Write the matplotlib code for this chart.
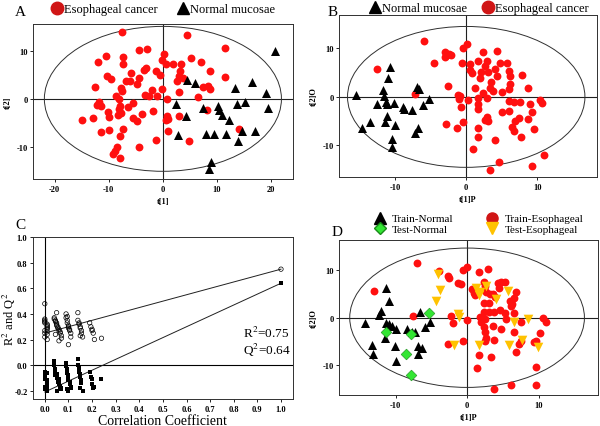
import numpy as np
import matplotlib.pyplot as plt
from matplotlib.patches import Ellipse
from matplotlib.lines import Line2D

plt.rcParams['font.family'] = ['Liberation Serif', 'DejaVu Serif']
plt.rcParams['mathtext.fontset'] = 'stix'
plt.rcParams['axes.unicode_minus'] = False

### data
# A: PCA scores t[1], t[2]
a_cancer = [(-7.5, 13.9), (4.4, 13.3), (11.5, 10.6), (-4.4, 10.2), (-3.0, 10.4), (-10.5, 8.9),
            (-11.9, 7.6), (-7.4, 8.7), (-7.3, 7.3), (0.2, 9.3), (-0.2, 8.1), (0.6, 7.3), (1.9, 7.2),
            (3.3, 7.3), (5.2, 8.5), (7.0, 7.6), (8.7, 5.9), (11.5, 4.6), (-5.9, 5.4), (-3.4, 6.0),
            (-3.2, 6.5), (-1.3, 5.9), (-0.6, 4.9), (3.2, 5.7), (2.9, 4.8), (3.8, 4.3), (2.6, 3.8),
            (-10.3, 4.7), (-9.6, 4.2), (-6.8, 3.7), (-6.1, 3.7), (-4.4, 4.3), (-4.8, 3.1), (-12.6, 2.4),
            (-7.7, 2.2), (-7.6, 1.7), (-2.1, 1.9), (-0.2, 2.1), (2.9, 1.5), (6.5, 0.35), (7.4, 2.4),
            (8.4, 2.7), (8.7, 2.1), (-3.3, 0.8), (-2.6, 0.6), (-1.0, 0.6), (0.7, 0.0), (-8.7, 0.6),
            (-8.1, 0.0), (-12.1, -1.2), (-11.5, -1.4), (-11.8, -0.7), (-7.9, -1.4), (-8.2, -2.2),
            (-6.4, -1.7), (-5.5, -0.8), (-1.8, -2.6), (-10.2, -2.8), (-10.0, -3.8), (-8.3, -3.3),
            (-7.8, -3.0), (-12.9, -4.0), (-14.9, -4.5), (-5.6, -4.0), (-4.7, -4.6), (-3.9, -3.1),
            (0.7, -3.6), (1.0, -4.1), (0.6, -4.4), (2.9, -3.6), (8.2, -2.4), (-11.4, -6.9),
            (-10.0, -6.4), (-7.3, -6.2), (-7.9, -7.8), (1.0, -6.6), (14.0, -6.3), (-1.3, -8.5),
            (4.8, -8.7), (-4.4, -10.1), (-8.5, -10.0), (-8.8, -10.8), (-9.2, -11.5), (-7.9, -12.4)]
a_normal = [(20.8, 9.9), (4.5, 4.0), (6.0, 3.3), (16.5, 3.6), (13.4, 2.3), (19.1, 1.25), (2.5, -1.0),
            (4.2, -3.5), (7.4, -1.9), (10.1, -1.5), (10.3, -2.4), (11.0, -3.3), (13.6, -1.0),
            (15.1, -0.6), (19.4, -1.9), (12.3, -4.5), (2.8, -7.6), (8.0, -7.3), (9.4, -7.3),
            (11.7, -7.3), (14.7, -6.8), (17.1, -6.8), (13.8, -8.8), (8.8, -13.1), (8.5, -14.6)]

# B: OPLS-DA scores t[1]P, t[2]O
b_normal = [(-10.7, 6.1), (-11.0, 3.8), (-15.5, 0.35), (-11.7, 1.4), (-11.5, 0.1), (-11.3, -1.1),
            (-11.2, -1.5), (-12.6, -1.5), (-10.1, -1.3), (-8.9, -2.0), (-8.7, -2.4), (-7.6, -2.7),
            (-6.9, 2.1), (-6.7, 1.7), (-5.2, -0.5), (-6.1, -1.7), (-11.2, -4.0), (-11.4, -5.2),
            (-10.0, -5.8), (-13.6, -5.2), (-14.7, -6.3), (-6.8, -6.3), (-7.2, -7.5), (-10.5, -8.7),
            (-10.4, -10.4)]
b_cancer = [(-6.0, 11.5), (-12.5, 5.7), (-4.6, 6.9), (-3.0, 9.2), (-2.7, 8.6), (-2.4, 8.9), (-3.0, 8.3),
            (-2.2, 8.6), (-0.5, 10.1), (0.1, 10.8), (-0.6, 7.0), (-7.2, 0.55), (-2.6, 2.3), (-1.2, 0.3),
            (-0.9, 0.1), (-1.0, -0.4), (-0.8, -2.0), (-0.4, -5.1), (-2.8, -5.6), (-1.3, -6.5),
            (2.4, 9.3), (4.4, 9.4), (0.6, 6.7), (0.5, 5.5), (0.8, 5.0), (1.7, 7.4), (2.9, 7.4),
            (2.7, 6.4), (2.1, 5.1), (3.1, 5.1), (4.0, 5.7), (4.3, 4.3), (4.8, 7.0), (5.7, 7.0),
            (6.0, 5.3), (6.2, 4.3), (7.9, 4.6), (6.2, 2.6), (6.0, 1.6), (8.7, 1.9), (1.3, 1.9),
            (2.4, 0.75), (3.4, 1.9), (3.8, 1.2), (5.0, 1.0), (2.9, -0.3), (0.2, -0.6), (1.6, -0.3),
            (1.6, -1.5), (1.6, -2.4), (6.0, -0.8), (6.7, -1.0), (7.6, -1.0), (9.0, -1.5), (10.4, -0.6),
            (10.7, -1.2), (5.0, -3.1), (6.0, -2.9), (9.3, -3.2), (2.9, -4.2), (3.1, -4.9), (2.6, -4.8),
            (7.4, -4.4), (6.9, -4.9), (6.4, -6.1), (6.7, -7.0), (8.7, -4.6), (9.6, -6.6), (1.7, -6.3),
            (1.6, -8.2), (7.7, -8.3), (4.0, -8.8), (1.0, -10.7), (11.0, -11.9), (4.6, -13.4),
            (3.3, -15.0), (9.3, -14.3), (3.5, 3.0), (2.0, 3.8)]

# C: permutation test
perm_corr = [0.00, 0.00, 0.00, 0.00, 0.00, 0.01, 0.01, 0.01, 0.01, 0.01, 0.00, 0.01, 0.00, 0.01, 0.00, 0.01,
             0.04, 0.04, 0.045, 0.045, 0.05, 0.05, 0.05, 0.055, 0.055, 0.06, 0.06, 0.065, 0.065, 0.07,
             0.07, 0.05, 0.06, 0.045,
             0.09, 0.09, 0.095, 0.095, 0.10, 0.10, 0.10, 0.105, 0.105, 0.11, 0.11, 0.10, 0.095,
             0.14, 0.14, 0.145, 0.145, 0.15, 0.15, 0.155, 0.155, 0.15, 0.16,
             0.19, 0.195, 0.20, 0.20, 0.205, 0.21,
             0.24]
perm_r2 = [0.48, 0.36, 0.35, 0.34, 0.33, 0.32, 0.31, 0.30, 0.29, 0.28, 0.27, 0.26, 0.25, 0.24, 0.22, 0.20,
           0.37, 0.36, 0.35, 0.34, 0.33, 0.32, 0.31, 0.30, 0.29, 0.28, 0.27, 0.26, 0.25, 0.23, 0.21,
           0.41, 0.19, 0.24,
           0.40, 0.37, 0.35, 0.33, 0.31, 0.30, 0.29, 0.28, 0.27, 0.25, 0.22, 0.16, 0.38,
           0.41, 0.35, 0.33, 0.32, 0.30, 0.29, 0.27, 0.25, 0.23, 0.22,
           0.33, 0.30, 0.28, 0.27, 0.25, 0.20,
           0.21]
perm_q2 = [-0.05, -0.07, -0.08, -0.10, -0.11, -0.12, -0.13, -0.14, -0.15, -0.16, -0.17, -0.18, -0.19,
           -0.20, -0.09, -0.06,
           0.03, 0.0, -0.03, -0.05, -0.07, -0.09, -0.10, -0.12, -0.13, -0.14, -0.15, -0.16, -0.17,
           -0.18, -0.19, -0.20, -0.11, -0.08,
           0.02, -0.01, -0.03, -0.06, -0.08, -0.10, -0.12, -0.13, -0.15, -0.17, -0.18, -0.20, -0.19,
           0.05, 0.0, -0.02, -0.05, -0.07, -0.09, -0.12, -0.14, -0.18, -0.20,
           -0.05, -0.09, -0.11, -0.15, -0.18, -0.17,
           -0.11]
line_corr = [0.0, 1.0]
r2_line = [0.25, 0.75]
q2_line = [-0.21, 0.64]

# D: OPLS-DA with train/test
d_train_normal = [(-11.4, 6.2), (-10.9, 3.5), (-12.0, 1.5), (-12.3, 0.6), (-14.3, -1.2), (-11.3, -1.1),
                  (-10.9, -1.4), (-10.5, -1.8), (-10.0, -2.4), (-11.5, -4.2), (-10.1, -5.9),
                  (-13.3, -5.8), (-13.1, -7.7), (-10.0, -9.2), (-8.4, -2.4), (-7.7, -3.1), (-7.3, -3.1),
                  (-6.6, 1.3), (-5.2, -0.8), (-5.9, -1.9), (-6.8, -5.9), (-6.3, -6.4), (-6.8, -7.7)]
d_test_normal = [(-5.3, 1.0), (-11.3, -3.1), (-7.8, -3.5), (-8.5, -7.7), (-7.8, -12.1)]
d_train_cancer = [(-7.0, 11.6), (-13.0, 5.6), (-7.6, 0.4), (-3.9, 9.8), (-2.6, 8.9), (-2.5, 8.4),
                  (-0.6, 10.1), (0.0, 10.7), (-1.3, 7.4), (-0.8, 7.1), (-2.2, 0.4), (-1.9, -1.2),
                  (0.0, -0.5), (-2.7, -5.6), (-0.6, -4.9), (1.7, 9.6), (2.9, 10.2), (0.7, 6.1),
                  (0.9, 5.2), (1.1, 4.7), (2.3, 7.6), (2.5, 6.8), (2.7, 5.5), (3.2, 5.0), (3.6, 5.0),
                  (3.9, 4.3), (4.3, 7.4), (4.8, 7.6), (5.3, 7.5), (4.5, 6.2), (6.0, 3.5), (6.3, 2.9),
                  (6.6, 4.2), (6.9, 5.4), (6.2, 2.5), (2.4, 3.1), (3.0, 3.1), (2.3, 1.3), (3.0, 1.3),
                  (3.7, 1.3), (4.6, 1.6), (5.3, 1.1), (6.5, 1.1), (1.8, 0.1), (2.0, -1.0), (2.5, -0.3),
                  (5.5, -0.3), (7.6, -0.8), (10.6, -0.1), (11.0, -1.0), (2.4, -2.0), (2.5, -3.0),
                  (3.6, -1.8), (4.8, -2.4), (6.5, -3.1), (10.2, -3.3), (2.7, -4.2), (2.5, -4.9),
                  (3.8, -4.6), (7.2, -5.6), (7.5, -4.9), (6.9, -7.3), (9.3, -5.2), (9.6, -4.9),
                  (1.6, -7.9), (3.3, -8.2), (1.4, -10.7), (9.7, -10.3), (6.1, -14.1), (9.6, -14.1),
                  (3.8, -15.1)]
d_test_cancer = [(-4.1, 9.3), (-3.8, 5.9), (-4.4, 3.6), (-1.3, 0.8), (-1.1, 0.1), (-1.8, -5.8),
                 (1.3, 6.3), (1.8, 5.5), (1.6, 4.8), (2.6, 6.8), (5.7, 5.7), (4.1, 4.0), (6.6, -1.0),
                 (8.5, -0.3), (7.7, -4.7), (1.6, -5.8), (5.9, -5.8), (9.9, -6.1)]

red = '#ff1010'
red_leg = '#d01515'
green = '#33e633'
yellow = '#ffc200'


def xy(pts):
    return np.array(pts).T


def score_axes(ax, xlim, ylim, ell, xticks, yticks, xlabel, ylabel):
    ax.set_xlim(xlim)
    ax.set_ylim(ylim)
    ax.axhline(0, color='#202020', lw=0.8, zorder=1)
    ax.axvline(0, color='#202020', lw=0.8, zorder=1)
    ax.add_patch(Ellipse((0, 0), 2 * ell[0], 2 * ell[1], fill=False, lw=0.7, ec='#303030', zorder=1))
    ax.set_xticks(xticks)
    ax.set_yticks(yticks)
    ax.tick_params(labelsize=6, length=2, width=0.6, pad=2)
    for lab in ax.get_xticklabels() + ax.get_yticklabels():
        lab.set_fontweight('bold')
    ax.set_xlabel(xlabel, fontsize=6, fontweight='bold', labelpad=3)
    ax.set_ylabel(ylabel, fontsize=6, fontweight='bold', labelpad=3)
    for s in ax.spines.values():
        s.set_linewidth(0.7)
        s.set_color('#303030')


fig = plt.figure(figsize=(6, 4.27), dpi=100)

### A
axA = fig.add_axes([0.055, 0.5785, 0.433, 0.363])
score_axes(axA, (-24, 24), (-16.7, 15.6), (21.9, 15.1), [-20, -10, 0, 10, 20], [-10, 0, 10], 't[1]', 't[2]')
x, y = xy(a_cancer)
axA.scatter(x, y, s=32, c=red, marker='o', lw=0, zorder=3)
x, y = xy(a_normal)
axA.scatter(x, y, s=42, c='black', marker='^', lw=0, zorder=3)
hA = [Line2D([], [], ls='', marker='o', ms=9, mfc=red_leg, mec=red_leg, label='Esophageal cancer'),
      Line2D([], [], ls='', marker='^', ms=9, mfc='black', mec='black', label='Normal mucosae')]
axA.legend(handles=hA, ncol=2, loc='center', bbox_to_anchor=(0.5, 1.097), frameon=False, fontsize=9,
           handletextpad=0.05, columnspacing=1.6, handlelength=1.0, borderpad=0)
fig.text(20 / 600, 1 - 12 / 427, 'A', fontsize=11, ha='center', va='center')

### B
axB = fig.add_axes([0.565, 0.583, 0.430, 0.380])
score_axes(axB, (-17.9, 18.4), (-16.5, 16.9), (16.7, 14.5), [-10, 0, 10], [-10, 0, 10], 't[1]P', 't[2]O')
x, y = xy(b_cancer)
axB.scatter(x, y, s=32, c=red, marker='o', lw=0, zorder=3)
x, y = xy(b_normal)
axB.scatter(x, y, s=42, c='black', marker='^', lw=0, zorder=3)
hB = [Line2D([], [], ls='', marker='^', ms=9, mfc='black', mec='black', label='Normal mucosae'),
      Line2D([], [], ls='', marker='o', ms=9, mfc=red_leg, mec=red_leg, label='Esophageal cancer')]
axB.legend(handles=hB, ncol=2, loc='center', bbox_to_anchor=(0.54, 1.04), frameon=False, fontsize=9,
           handletextpad=0.05, columnspacing=1.2, handlelength=1.0, borderpad=0)
fig.text(333 / 600, 1 - 12 / 427, 'B', fontsize=11, ha='center', va='center')

### C
axC = fig.add_axes([0.055, 0.0632, 0.433, 0.379])
axC.set_xlim(-0.05, 1.05)
axC.set_ylim(-0.265, 1.0)
axC.axhline(0, color='black', lw=0.8, zorder=1)
axC.axvline(0, color='black', lw=0.8, zorder=1)
axC.plot(line_corr, r2_line, color='#202020', lw=0.7, zorder=2)
axC.plot(line_corr, q2_line, color='#202020', lw=0.7, zorder=2)
axC.scatter(perm_corr, perm_r2, s=10, facecolors='none', edgecolors='black', lw=0.5, zorder=3)
axC.scatter(perm_corr, perm_q2, s=5, c='black', marker='s', lw=0, zorder=3)
axC.scatter(line_corr[1:], r2_line[1:], s=10, facecolors='none', edgecolors='black', lw=0.5, zorder=3)
axC.scatter(line_corr[1:], q2_line[1:], s=6, c='black', marker='s', lw=0, zorder=3)
axC.set_xticks(np.arange(0, 1.01, 0.1))
axC.set_yticks(np.arange(-0.2, 1.01, 0.2))
axC.xaxis.set_major_formatter(plt.FormatStrFormatter('%.1f'))
axC.yaxis.set_major_formatter(plt.FormatStrFormatter('%.1f'))
axC.tick_params(labelsize=6, length=2, width=0.6, pad=2)
for lab in axC.get_xticklabels() + axC.get_yticklabels():
    lab.set_fontweight('bold')
for s in axC.spines.values():
    s.set_linewidth(0.7)
    s.set_color('#303030')
axC.set_xlabel('Correlation Coefficient', fontsize=10, labelpad=1)
axC.set_ylabel('R$^2$ and Q$^2$', fontsize=9)
axC.yaxis.set_label_coords(-0.058, 0.5)
axC.text(0.84, 0.255, 'R$^2$=0.75', fontsize=9.5, ha='left', va='center')
axC.text(0.84, 0.125, 'Q$^2$=0.64', fontsize=9.5, ha='left', va='center')
fig.text(20 / 600, 1 - 226 / 427, 'C', fontsize=11, ha='center', va='center')

### D
axD = fig.add_axes([0.565, 0.0726, 0.4317, 0.363])
score_axes(axD, (-17.9, 18.3), (-16.3, 16.4), (16.4, 14.7), [-10, 0, 10], [-10, 0, 10], 't[1]P', 't[2]O')
x, y = xy(d_train_cancer)
axD.scatter(x, y, s=32, c=red, marker='o', lw=0, zorder=3)
x, y = xy(d_train_normal)
axD.scatter(x, y, s=42, c='black', marker='^', lw=0, zorder=3)
x, y = xy(d_test_normal)
axD.scatter(x, y, s=30, c=green, marker='D', edgecolors='#1a8a1a', lw=0.4, zorder=4)
x, y = xy(d_test_cancer)
axD.scatter(x, y, s=48, c=yellow, marker='v', lw=0, zorder=4)
hD = [Line2D([], [], ls='', marker='^', ms=8, mfc='black', mec='black', label='Train-Normal'),
      Line2D([], [], ls='', marker='D', ms=6, mfc=green, mec='#1a8a1a', label='Test-Normal'),
      Line2D([], [], ls='', marker='o', ms=8, mfc=red_leg, mec=red_leg, label='Train-Esophageal'),
      Line2D([], [], ls='', marker='v', ms=8, mfc=yellow, mec=yellow, label='Test-Esophageal')]
axD.legend(handles=hD, ncol=2, loc='center', bbox_to_anchor=(0.54, 1.105), frameon=False, fontsize=8,
           handletextpad=0.6, columnspacing=3.0, handlelength=1.0, borderpad=0, labelspacing=0.05)
fig.text(337 / 600, 1 - 233 / 427, 'D', fontsize=11, ha='center', va='center')

fig.savefig('out.png', dpi=100)
